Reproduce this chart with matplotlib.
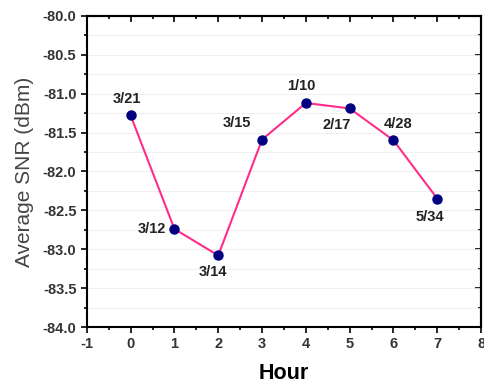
import matplotlib.pyplot as plt
from matplotlib.ticker import MultipleLocator

# data
hours = [0, 1, 2, 3, 4, 5, 6, 7]
snr = [-81.28, -82.74, -83.08, -81.59, -81.12, -81.19, -81.60, -82.35]
labels = ["3/21", "3/12", "3/14", "3/15", "1/10", "2/17", "4/28", "5/34"]

# label offsets in points (dx, dy) and alignment
offsets = [(-3, 7, "center", "bottom"), (-6, 0, "right", "center"),
           (-4, -7, "center", "top"), (-8, 7, "right", "bottom"),
           (-3, 7, "center", "bottom"), (-9, -7, "center", "top"),
           (3, 7, "center", "bottom"), (-5, -8, "center", "top")]

plt.rcParams["font.family"] = ["Liberation Sans", "DejaVu Sans"]
plt.rcParams["axes.unicode_minus"] = False

fig = plt.figure(figsize=(4.85, 3.87), dpi=100)
ax = fig.add_axes([0.179, 0.155, 0.813, 0.804])

ax.plot(hours, snr, "-", color="#ff2d8a", linewidth=1.5, zorder=2)
ax.plot(hours, snr, "o", color="#000080", markersize=6.5, zorder=3)

for x, y, t, (dx, dy, ha, va) in zip(hours, snr, labels, offsets):
    ax.annotate(t, (x, y), xytext=(dx, dy), textcoords="offset points",
                ha=ha, va=va, fontsize=10.5, fontweight="bold", color="#222222")

ax.set_xlim(-1, 8)
ax.set_ylim(-84, -80)
ax.xaxis.set_major_locator(MultipleLocator(1))
ax.xaxis.set_minor_locator(MultipleLocator(0.5))
ax.yaxis.set_major_locator(MultipleLocator(0.5))
ax.yaxis.set_minor_locator(MultipleLocator(0.25))
ax.yaxis.set_major_formatter(plt.FormatStrFormatter("%.1f"))

ax.grid(axis="y", which="both", color="#eeeeee", linewidth=0.6, zorder=0)

ax.tick_params(which="both", direction="out", width=1.2, labelsize=10.5)
ax.tick_params(which="major", length=4)
ax.tick_params(which="minor", length=2.5)
for lab in ax.get_xticklabels() + ax.get_yticklabels():
    lab.set_fontweight("bold")
    lab.set_color("#333333")

# mirror ticks on top/right pointing in
top = ax.secondary_xaxis("top")
top.xaxis.set_major_locator(MultipleLocator(1))
top.xaxis.set_minor_locator(MultipleLocator(0.5))
top.tick_params(which="both", direction="in", labeltop=False, width=1.2)
top.tick_params(which="major", length=4)
top.tick_params(which="minor", length=2.5)
right = ax.secondary_yaxis("right")
right.yaxis.set_major_locator(MultipleLocator(0.5))
right.yaxis.set_minor_locator(MultipleLocator(0.25))
right.tick_params(which="both", direction="in", labelright=False, width=1.2)
right.tick_params(which="major", length=4)
right.tick_params(which="minor", length=2.5)

for s in ax.spines.values():
    s.set_linewidth(1.5)
top.spines["top"].set_linewidth(1.5)
right.spines["right"].set_linewidth(1.5)

ax.set_xlabel("Hour", fontsize=15.5, fontweight="bold", labelpad=8)
ax.set_ylabel("Average SNR (dBm)", fontsize=15, color="#444444", labelpad=6)

fig.savefig("out.png", dpi=100)
